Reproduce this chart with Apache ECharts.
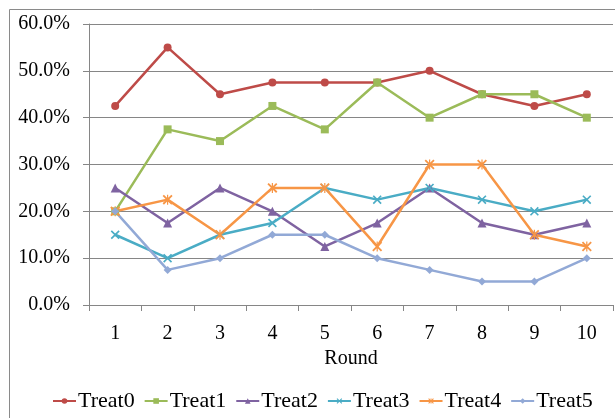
<!DOCTYPE html>
<html><head><meta charset="utf-8">
<script src="https://cdn.jsdelivr.net/npm/echarts@6/dist/echarts.min.js"></script>
<style>html,body{margin:0;padding:0;background:#fff}#c{width:615px;height:418px}</style>
</head><body><div id="c"></div>
<script>
const rounds = ['1','2','3','4','5','6','7','8','9','10'];
const seriesNames = ['Treat0','Treat1','Treat2','Treat3','Treat4','Treat5'];
const treat0 = [42.5, 55, 45, 47.5, 47.5, 47.5, 50, 45, 42.5, 45];
const treat1 = [20, 37.5, 35, 42.5, 37.5, 47.5, 40, 45, 45, 40];
const treat2 = [25, 17.5, 25, 20, 12.5, 17.5, 25, 17.5, 15, 17.5];
const treat3 = [15, 10, 15, 17.5, 25, 22.5, 25, 22.5, 20, 22.5];
const treat4 = [20, 22.5, 15, 25, 25, 12.5, 30, 30, 15, 12.5];
const treat5 = [20, 7.5, 10, 15, 15, 10, 7.5, 5, 5, 10];
const yTicks = [0, 10, 20, 30, 40, 50, 60];

const colors = ['#BE4B48','#9BBB59','#7F63A1','#4AACC5','#F79646','#92A9D6'];
const xPath = 'path://M0,1.3 L1.3,0 L10,8.7 L8.7,10 Z M8.7,0 L10,1.3 L1.3,10 L0,8.7 Z';
const starPath = 'path://M0,1.3 L1.3,0 L10,8.7 L8.7,10 Z M8.7,0 L10,1.3 L1.3,10 L0,8.7 Z M4.4,0 L5.6,0 L5.6,10 L4.4,10 Z';
const symbols = ['circle','rect','triangle',xPath,starPath,'diamond'];
const sizes = [8,8,9,9,10,8];
const data = [treat0,treat1,treat2,treat3,treat4,treat5];
const font = "'Liberation Serif','Times New Roman',serif";

const chart = echarts.init(document.getElementById('c'));
chart.setOption({
  animation:false,
  color: colors,
  textStyle:{fontFamily:font},
  graphic:[{type:'rect',left:7,top:7,shape:{width:700,height:500},style:{fill:'none',stroke:'#8a8a8a',lineWidth:1},silent:true}],
  grid:{left:89,right:2,top:24,bottom:113,containLabel:false},
  legend:{
    bottom:1, left:47, itemWidth:23, itemHeight:7, itemGap:9,
    textStyle:{fontSize:22,color:'#000',fontFamily:font,padding:[0,0,0,-3]},
    data: seriesNames
  },
  xAxis:{
    type:'category', data:rounds, boundaryGap:true,
    name:'Round', nameLocation:'middle', nameGap:44,
    nameTextStyle:{fontSize:20,color:'#000',fontFamily:font},
    axisLine:{lineStyle:{color:'#868686',width:1}},
    axisTick:{show:true,interval:0,length:6,lineStyle:{color:'#868686'}},
    axisLabel:{fontSize:20,color:'#000',margin:19,fontFamily:font,interval:0}
  },
  yAxis:{
    type:'value', min:yTicks[0], max:yTicks[yTicks.length-1], interval:10,
    axisLine:{show:true,lineStyle:{color:'#868686',width:1}},
    axisTick:{show:true,length:6,lineStyle:{color:'#868686'}},
    splitLine:{lineStyle:{color:'#868686',width:1}},
    axisLabel:{fontSize:20,color:'#000',margin:19,fontFamily:font,formatter:v=>v.toFixed(1)+'%'}
  },
  series: data.map((d,i)=>({
    name: seriesNames[i], type:'line', data:d,
    symbol: symbols[i], symbolSize: sizes[i],
    lineStyle:{width:2.5,color:colors[i]},
    itemStyle:{color:colors[i]}
  }))
});
</script></body></html>
